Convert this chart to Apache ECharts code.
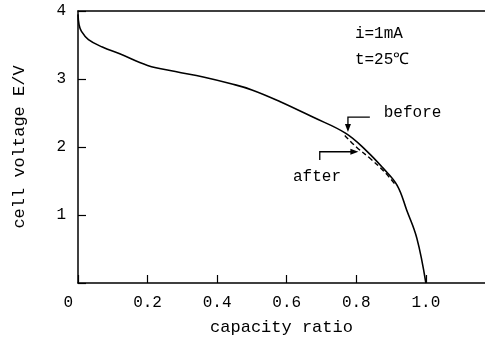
<!DOCTYPE html>
<html lang="en">
<head>
    <meta charset="UTF-8">
    <title>cell voltage vs capacity ratio</title>
    <script src="https://cdn.jsdelivr.net/npm/echarts@6/dist/echarts.min.js"></script>
    <style>
        body { margin: 0; background: #fff; }
    </style>
</head>
<body>
    <div id="chart_div" style="width: 485px; height: 346px;"></div>
</body>
    <script type="text/javascript">

       // discharge curve
       var capacity = [0, 0.003, 0.01, 0.03, 0.07, 0.12, 0.2, 0.28, 0.36, 0.44, 0.5, 0.58, 0.675, 0.77, 0.83, 0.875, 0.917, 0.945, 0.974, 1.0];
       var voltage  = [3.95, 3.8, 3.7, 3.58, 3.47, 3.37, 3.2, 3.11, 3.03, 2.93, 2.84, 2.67, 2.44, 2.2, 1.94, 1.7, 1.44, 1.07, 0.66, 0];
       // dashed "after" part
       var capAfter  = [0.767, 0.8, 0.84, 0.88, 0.915];
       var voltAfter = [2.17, 2.0, 1.83, 1.64, 1.43];

       var xTicks = [0, 0.2, 0.4, 0.6, 0.8, 1.0];
       var yTicks = [1, 2, 3, 4];

       var font = "'Liberation Mono', 'DejaVu Sans Mono', monospace";

       function pairs(xs, ys) {
           var out = [];
           for (var i = 0; i < xs.length; i++) out.push([xs[i], ys[i]]);
           return out;
       }

       var chart = echarts.init(document.getElementById("chart_div"));
       var options = {
            animation: false,
            grid: { left: 78, top: 11, right: 0, bottom: 63 },
            xAxis: [{
                type: 'value', min: 0, max: 1.17, interval: 0.2,
                name: 'capacity ratio', nameLocation: 'middle', nameGap: 36,
                nameTextStyle: { fontFamily: font, fontSize: 17, color: '#000' },
                axisLine: { lineStyle: { color: '#000', width: 1.5 } },
                axisTick: { inside: true, length: 8, lineStyle: { color: '#000', width: 1.2 } },
                splitLine: { show: false },
                axisLabel: {
                    margin: 12, fontFamily: font, fontSize: 16, color: '#000', showMaxLabel: false,
                    formatter: function (v) {
                        if (xTicks.indexOf(Math.round(v * 10) / 10) < 0) return '';
                        return v === 0 ? '0  ' : v.toFixed(1);
                    }
                }
            }, {
                type: 'value', position: 'top', min: 0, max: 1.17,
                axisLine: { show: true, lineStyle: { color: '#000', width: 1.5 } },
                axisTick: { show: false }, axisLabel: { show: false }, splitLine: { show: false }
            }],
            yAxis: {
                type: 'value', min: 0, max: 4, interval: 1,
                name: 'cell voltage E/V', nameLocation: 'middle', nameGap: 50, nameRotate: 90,
                nameTextStyle: { fontFamily: font, fontSize: 17, color: '#000' },
                axisLine: { show: true, lineStyle: { color: '#000', width: 1.5 } },
                axisTick: { inside: true, length: 8, lineStyle: { color: '#000', width: 1.2 } },
                splitLine: { show: false },
                axisLabel: {
                    margin: 12, fontFamily: font, fontSize: 16, color: '#000',
                    formatter: function (v) { return yTicks.indexOf(v) < 0 ? '' : String(v); }
                }
            },
            series: [{
                type: 'line', data: pairs(capacity, voltage), smooth: 0.4,
                showSymbol: false, lineStyle: { color: '#000', width: 1.6 }
            }, {
                type: 'line', data: pairs(capAfter, voltAfter), smooth: 0.4,
                showSymbol: false, lineStyle: { color: '#000', width: 1.4, type: [5, 3] }
            }]
       };
       chart.setOption(options);

       // annotations, placed from data coordinates
       function px(x, y) { return chart.convertToPixel({ gridIndex: 0 }, [x, y]); }
       var txt = { fontFamily: font, fontSize: 16, fill: '#000', verticalAlign: 'middle' };
       function text(s, x, y) {
           var p = px(x, y);
           return { type: 'text', x: p[0], y: p[1], style: Object.assign({ text: s }, txt) };
       }
       function line(pts) {
           return { type: 'polyline', shape: { points: pts.map(function (d) { return px(d[0], d[1]); }) },
                    style: { stroke: '#000', lineWidth: 1.3, fill: null } };
       }
       var bTip = px(0.776, 2.22), aTip = px(0.806, 1.93);
       chart.setOption({
           graphic: [
               text('i=1mA', 0.796, 3.67),
               text('t=25\u2103', 0.796, 3.29),
               text('before', 0.879, 2.51),
               text('after', 0.618, 1.56),
               line([[0.839, 2.44], [0.776, 2.44], [0.776, 2.26]]),
               line([[0.695, 1.81], [0.695, 1.93], [0.795, 1.93]]),
               { type: 'polygon', shape: { points: [[bTip[0], bTip[1]], [bTip[0] - 3, bTip[1] - 8], [bTip[0] + 3, bTip[1] - 8]] },
                 style: { fill: '#000' } },
               { type: 'polygon', shape: { points: [[aTip[0], aTip[1]], [aTip[0] - 8, aTip[1] - 3], [aTip[0] - 8, aTip[1] + 3]] },
                 style: { fill: '#000' } }
           ]
       });

    </script>
</html>
